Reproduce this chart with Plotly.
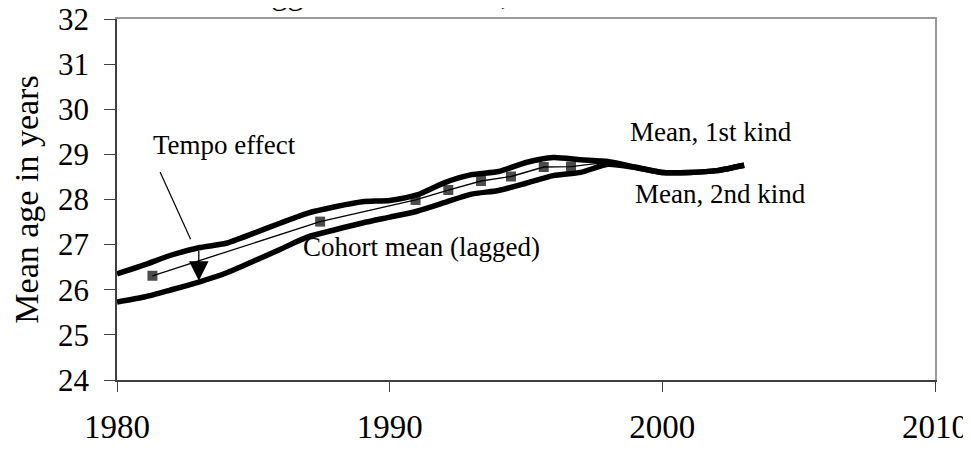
import plotly.graph_objects as go

# period means by calendar year
years = list(range(1980, 2004))
mean_1st_kind = [26.35, 26.55, 26.77, 26.93, 27.03, 27.25, 27.48, 27.70, 27.84, 27.95,
                 27.98, 28.10, 28.37, 28.55, 28.62, 28.82, 28.93, 28.88, 28.84, 28.72,
                 28.60, 28.60, 28.64, 28.76]
mean_2nd_kind = [25.73, 25.84, 26.00, 26.17, 26.37, 26.63, 26.90, 27.17, 27.33, 27.48,
                 27.61, 27.74, 27.93, 28.12, 28.20, 28.36, 28.53, 28.60, 28.78, 28.71,
                 28.60, 28.60, 28.64, 28.76]

# lagged cohort mean (last point is where the thin line joins the period curves)
cohort_years = [1981.3, 1987.45, 1990.95, 1992.15, 1993.35, 1994.45, 1995.65, 1996.65, 1998.0]
cohort_mean = [26.31, 27.51, 27.99, 28.21, 28.41, 28.51, 28.72, 28.73, 28.83]
cohort_marker = [10, 10, 10, 10, 10, 10, 10, 10, 0]

x_ticks = [1980, 1990, 2000, 2010]
y_ticks = list(range(24, 33))

FONT = "Liberation Serif, Times New Roman, serif"

fig = go.Figure()

fig.add_trace(go.Scatter(
    x=years, y=mean_1st_kind, mode="lines", name="Mean, 1st kind",
    line=dict(color="black", width=5.5, shape="spline", smoothing=0.6)
))
fig.add_trace(go.Scatter(
    x=years, y=mean_2nd_kind, mode="lines", name="Mean, 2nd kind",
    line=dict(color="black", width=5.5, shape="spline", smoothing=0.6)
))
fig.add_trace(go.Scatter(
    x=cohort_years, y=cohort_mean, mode="lines+markers", name="Cohort mean (lagged)",
    line=dict(color="black", width=1.3),
    marker=dict(symbol="square", size=cohort_marker, color="black", line=dict(width=0))
))

labels = [
    ("Tempo effect", 1981.25, 29.21),
    ("Cohort mean (lagged)", 1986.75, 26.95),
    ("Mean, 1st kind", 1998.75, 29.5),
    ("Mean, 2nd kind", 1998.93, 28.12),
]
for text, lx, ly in labels:
    fig.add_annotation(x=lx, y=ly, text=text, showarrow=False, xanchor="left",
                       yanchor="middle", font=dict(family=FONT, size=27, color="black"))

# pointer from "Tempo effect" label and the downward arrow between the curves
fig.add_shape(type="line", x0=1981.58, y0=28.61, x1=1982.70, y1=27.12,
              line=dict(color="black", width=1.2))
fig.add_annotation(x=1983.0, y=26.2, ax=1983.0, ay=26.9, xref="x", yref="y",
                   axref="x", ayref="y", text="", showarrow=True,
                   arrowhead=2, arrowsize=3, arrowwidth=1.3, arrowcolor="black")

# title, mostly cut off above the picture
fig.add_annotation(xref="paper", yref="paper", x=-0.130, y=1.072, xanchor="left",
                   yanchor="middle", showarrow=False,
                   text="Period means and lagged cohort mean, 1980\u20132003",
                   font=dict(family=FONT, size=32, color="black"))

# the page body adds an 8px offset, margins compensate for it
fig.update_layout(
    width=971, height=450,
    paper_bgcolor="white", plot_bgcolor="white",
    font=dict(family=FONT, color="black", size=30),
    margin=dict(l=109, r=44, t=11, b=78, autoexpand=False),
    showlegend=False,
    xaxis=dict(
        range=[1980, 2010], tickvals=x_ticks, showgrid=False, zeroline=False,
        showline=True, linecolor="#404040", linewidth=2, automargin=False,
        ticks="outside", ticklen=10, tickcolor="#404040", tickwidth=1,
        tickfont=dict(size=33), ticklabelstandoff=6, ticklabeloverflow="allow"
    ),
    yaxis=dict(
        range=[24, 32], tickvals=y_ticks, showgrid=False, zeroline=False,
        showline=True, linecolor="#404040", linewidth=1.5, automargin=False,
        ticks="outside", ticklen=11, tickcolor="#404040", tickwidth=1,
        tickfont=dict(size=31), ticklabelstandoff=9, ticklabeloverflow="allow",
        title=dict(text="Mean age in years", font=dict(size=34), standoff=15)
    ),
    # lighter grey frame on top and right
    xaxis2=dict(overlaying="x", side="top", range=[1980, 2010], showline=True,
                linecolor="#9a9a9a", linewidth=1.5, showgrid=False, zeroline=False,
                showticklabels=False, ticks="", automargin=False),
    yaxis2=dict(overlaying="y", side="right", range=[24, 32], showline=True,
                linecolor="#9a9a9a", linewidth=1.5, showgrid=False, zeroline=False,
                showticklabels=False, ticks="", automargin=False),
)

# empty trace so the frame axes get drawn
fig.add_trace(go.Scatter(x=[], y=[], xaxis="x2", yaxis="y2", showlegend=False,
                         hoverinfo="skip"))

fig.write_html("out.html")
